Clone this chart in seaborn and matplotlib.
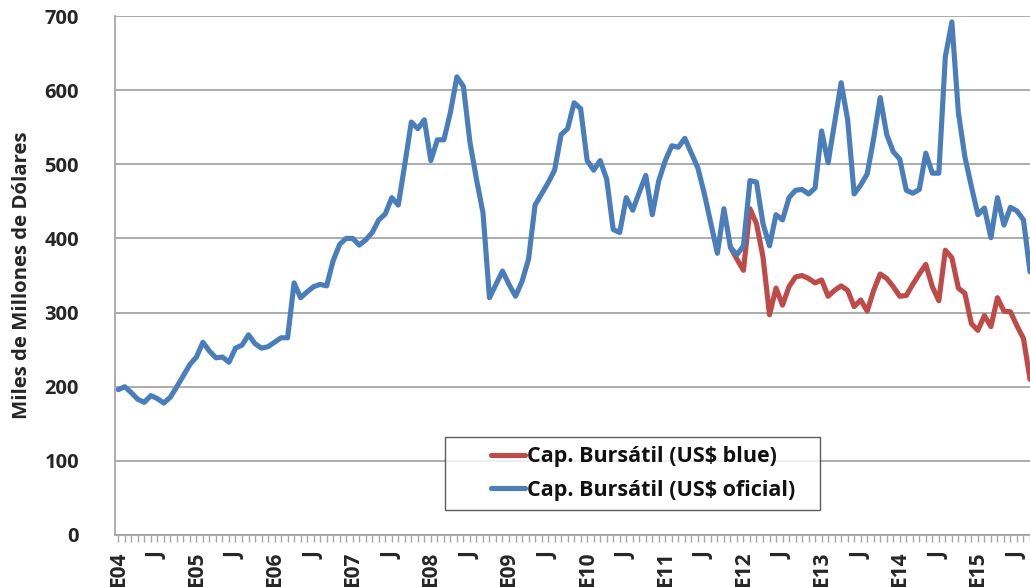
import numpy as np
import pandas as pd
import matplotlib
matplotlib.use("Agg")
import matplotlib.pyplot as plt
import seaborn as sns

# ---- data (Miles de Millones de Dólares), monthly from Jan-2004 ----
oficial = [
    196, 200, 192, 183, 179, 188, 184, 178, 186, 200, 215, 230,
    240, 260, 248, 239, 240, 233, 252, 256, 270, 258, 252, 254,
    260, 266, 266, 340, 320, 328, 335, 338, 336, 370, 392, 400,
    400, 391, 398, 408, 425, 433, 455, 445, 500, 557, 548, 560,
    505, 533, 533, 570, 618, 605, 530, 480, 435, 320, 338, 356,
    338, 322, 342, 372, 445, 460, 475, 492, 540, 548, 583, 575,
    505, 492, 505, 480, 412, 408, 455, 438, 462, 485, 432, 478,
    505, 525, 523, 535, 515, 495, 460, 420, 380, 440, 388, 378,
    390, 478, 476, 420, 390, 432, 425, 455, 465, 466, 460, 468,
    545, 502, 556, 610, 560, 460, 472, 487, 535, 590, 540, 517,
    507, 465, 461, 466, 515, 488, 488, 645, 692, 570, 510, 470,
    432, 441, 401, 455, 418, 442, 437, 425, 355,
]
# blue-dollar series, from Nov-2011 onward
blue = [
    388, 372, 357, 440, 420, 375, 297, 333, 310, 335,
    348, 350, 346, 340, 344, 322, 330, 336, 330, 308,
    317, 302, 330, 352, 346, 335, 322, 323, 338, 352,
    365, 335, 316, 384, 374, 333, 326, 285, 276, 296,
    281, 320, 302, 301, 282, 265, 210,
]
years = ["04", "05", "06", "07", "08", "09", "10", "11", "12", "13", "14", "15"]
tick_labels = []
for y in years:
    tick_labels += ["E" + y, "J"]

n = len(oficial)
mes = np.arange(n)
df_of = pd.DataFrame({"mes": mes, "valor": oficial})
df_bl = pd.DataFrame({"mes": mes[n - len(blue):], "valor": blue})

sns.set_theme(style="white")
plt.rcParams["font.family"] = ["Open Sans", "DejaVu Sans"]

fig = plt.figure(figsize=(10.30, 5.87), dpi=100)
ax = fig.add_axes([115 / 1030, 52 / 587, 1 - 115 / 1030, 519 / 587])

RED = "#be4b48"
BLUE = "#4a7ebb"
sns.lineplot(data=df_bl, x="mes", y="valor", ax=ax, color=RED, linewidth=3.7,
             label="Cap. Bursátil (US$ blue)")
sns.lineplot(data=df_of, x="mes", y="valor", ax=ax, color=BLUE, linewidth=3.7,
             label="Cap. Bursátil (US$ oficial)")

ax.set_ylim(0, 700)
ax.set_xlim(-0.5, 139.45)
ax.set_yticks(np.arange(0, 701, 100))
ax.yaxis.grid(True, color="#a6a6a6", linewidth=1.3)
ax.set_axisbelow(True)
for s in ["top", "right"]:
    ax.spines[s].set_visible(False)
for s in ["left", "bottom"]:
    ax.spines[s].set_color("#a6a6a6")
    ax.spines[s].set_linewidth(1.3)

ax.set_xticks(np.arange(0, 6 * len(tick_labels), 6))
ax.set_xticklabels(tick_labels, rotation=90, fontsize=15, fontweight="bold")
ax.set_xticks(np.arange(0, 141, 1), minor=True)
ax.tick_params(axis="x", which="both", direction="out", length=5, color="#a6a6a6",
               width=1, bottom=True, pad=7)
ax.tick_params(axis="y", length=0, pad=26, labelsize=14.5)
for t in ax.get_yticklabels():
    t.set_fontweight("bold")

ax.set_xlabel("")
ax.set_ylabel("Miles de Millones de Dólares", fontsize=14.7, fontweight="bold")
ax.yaxis.set_label_coords(-0.091, 0.5)

leg = ax.legend(loc="center", bbox_to_anchor=(445 / 1030, 70 / 587, 375 / 1030, 87 / 587),
                bbox_transform=fig.transFigure, mode="expand", frameon=True, fancybox=False,
                handlelength=3.3, handletextpad=0.1, borderpad=0.4, labelspacing=0.6,
                prop={"size": 15.5, "weight": "bold"}, borderaxespad=0)
leg.get_frame().set_edgecolor("#333333")
leg.get_frame().set_linewidth(1.0)
for t in leg.get_texts():
    t.set_color("#111111")
# short line segments placed at the right end of each handle slot
for line in leg.get_lines():
    xd = np.asarray(line.get_xdata(), dtype=float)
    x1 = xd.max()
    line.set_xdata(np.linspace(x1 - 24, x1, len(xd)))

fig.savefig("out.png", dpi=100)
